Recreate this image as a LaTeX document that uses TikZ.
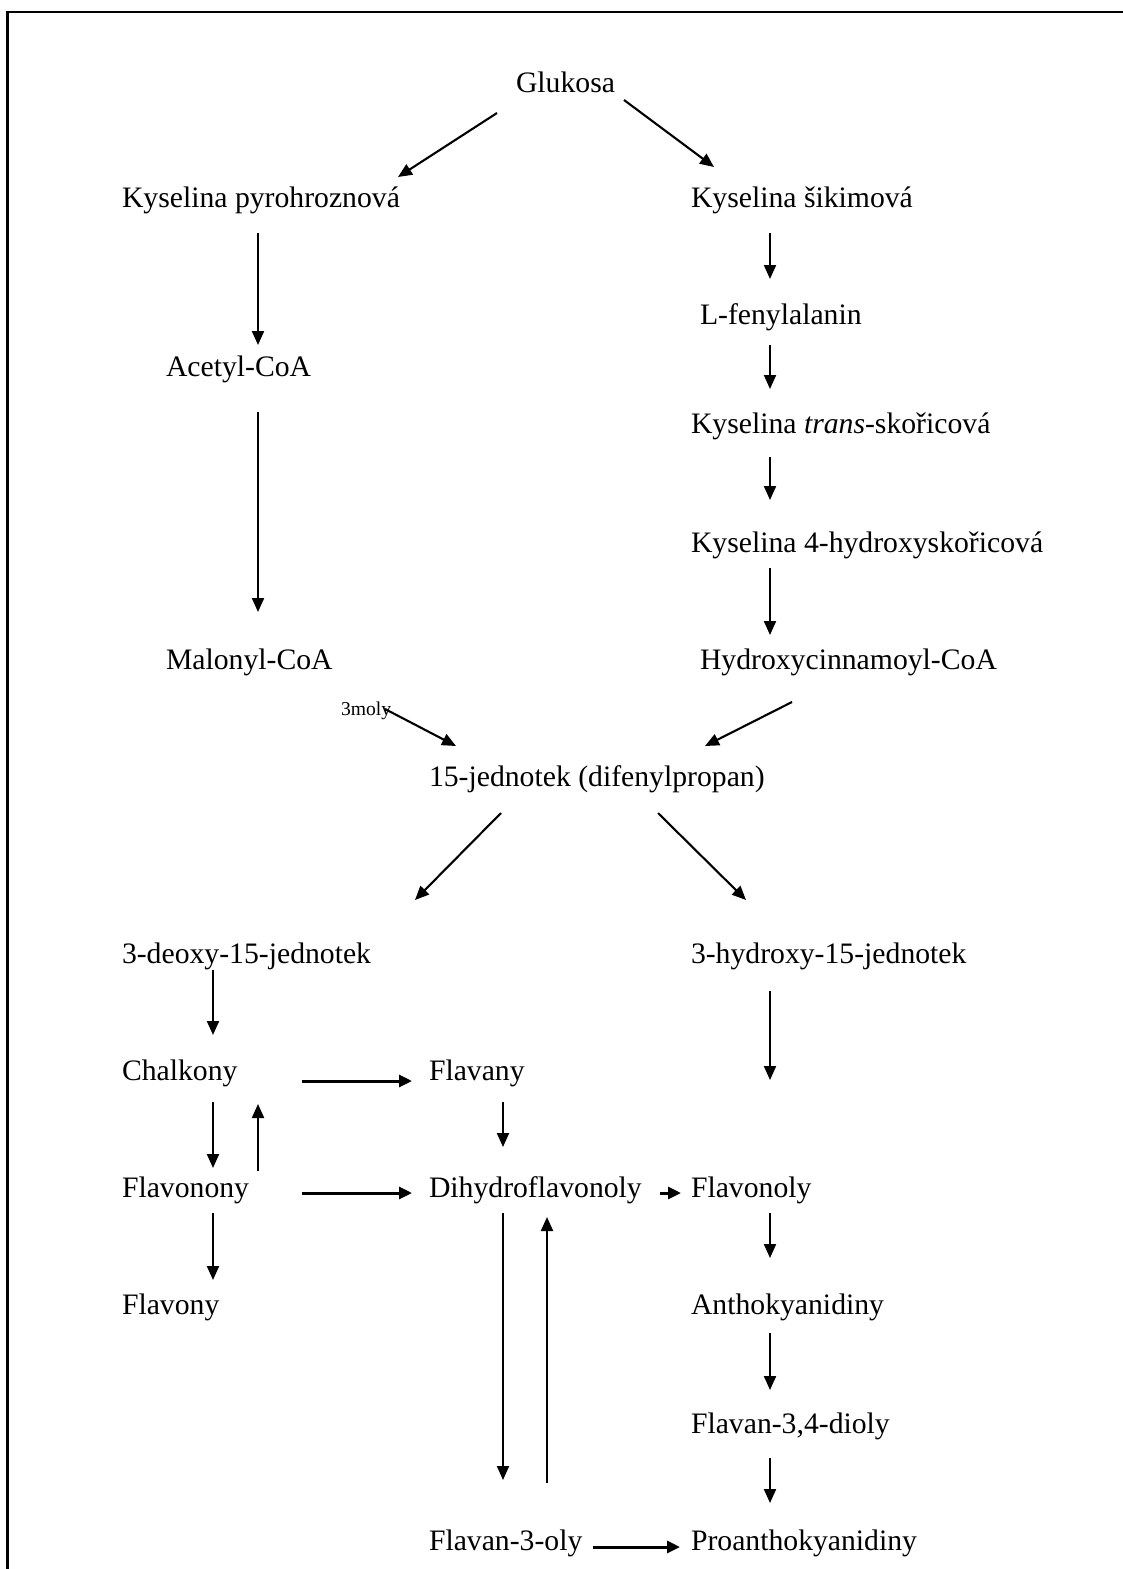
\documentclass[tikz,border=0pt]{standalone}
\usepackage{fontspec}
\setmainfont{Liberation Serif}
\usetikzlibrary{arrows.meta,calc}
\tikzset{
  txt/.style={anchor=base west, inner sep=0pt, outer sep=0pt, font=\fontsize{29.7}{34}\selectfont},
  small/.style={anchor=base west, inner sep=0pt, outer sep=0pt, font=\fontsize{19.6}{22}\selectfont},
  arr/.style={-{Triangle[length=14pt,width=12pt]}, line width=2.1pt},
  harr/.style={-{Triangle[length=13pt,width=12pt]}, line width=3pt},
  frame/.style={line width=2.6pt}
}
\begin{document}
\begin{tikzpicture}[x=1pt,y=-1pt]
\useasboundingbox (0,0) rectangle (1123,1569);
\draw[frame] (7.5,1575) -- (7.5,12) -- (1130,12);

\node[txt] (glu) at (516,92) {Glukosa};
\node[txt] (pyro) at (122,207) {Kyselina pyrohroznová};
\node[txt] (sik) at (691,207) {Kyselina šikimová};
\node[txt] (fen) at (700,324) {L-fenylalanin};
\node[txt] (ace) at (166,376) {Acetyl-CoA};
\node[txt] (trans) at (691,433) {Kyselina \textit{trans}-skořicová};
\node[txt] (hyd4) at (691,552) {Kyselina 4-hydroxyskořicová};
\node[txt] (mal) at (166,669) {Malonyl-CoA};
\node[txt] (hcin) at (700,669) {Hydroxycinnamoyl-CoA};
\node[small] (moly) at (341,715) {3moly};
\node[txt] (jed) at (429,786) {15-jednotek (difenylpropan)};
\node[txt] (deoxy) at (122,963) {3-deoxy-15-jednotek};
\node[txt] (hydroxy) at (691,963) {3-hydroxy-15-jednotek};
\node[txt] (chal) at (122,1080) {Chalkony};
\node[txt] (flavany) at (429,1080) {Flavany};
\node[txt] (flavonony) at (122,1197) {Flavonony};
\node[txt] (dihydro) at (429,1197) {Dihydroflavonoly};
\node[txt] (flavonoly) at (691,1197) {Flavonoly};
\node[txt] (flavony) at (122,1314) {Flavony};
\node[txt] (antho) at (691,1314) {Anthokyanidiny};
\node[txt] (diol) at (691,1433) {Flavan-3,4-dioly};
\node[txt] (f3ol) at (429,1550) {Flavan-3-oly};
\node[txt] (proantho) at (691,1550) {Proanthokyanidiny};
\coordinate (hxend) at (770,1080);

% top split
\draw[arr] ($(glu.base west)+(-19,21)$) -- ($(pyro.base west)+(276,-30)$);
\draw[arr] ($(glu.base west)+(108,8)$) -- ($(sik.base west)+(23,-40)$);
% left column
\draw[arr] ($(pyro.base west)+(136,26)$) -- ($(ace.base west)+(92,-31)$);
\draw[arr] ($(ace.base west)+(92,36)$) -- ($(mal.base west)+(92,-57)$);
% right column
\draw[arr] ($(sik.base west)+(79,26)$) -- ($(fen.base west)+(70,-45)$);
\draw[arr] ($(fen.base west)+(70,21)$) -- ($(trans.base west)+(79,-44)$);
\draw[arr] ($(trans.base west)+(79,24)$) -- ($(hyd4.base west)+(79,-52)$);
\draw[arr] ($(hyd4.base west)+(79,16)$) -- ($(hcin.base west)+(70,-34)$);
% merge
\draw[arr] ($(mal.base west)+(219,40)$) -- ($(jed.base west)+(27,-40)$);
\draw[arr] ($(hcin.base west)+(92,33)$) -- ($(jed.base west)+(276,-40)$);
% second split
\draw[arr] ($(jed.base west)+(72,27)$) -- ($(deoxy.base west)+(293,-63)$);
\draw[arr] ($(jed.base west)+(229,27)$) -- ($(hydroxy.base west)+(55,-63)$);
% lower part
\draw[arr] ($(deoxy.base west)+(91,7)$) -- ($(chal.base west)+(91,-45)$);
\draw[arr] ($(hydroxy.base west)+(79,28)$) -- (hxend);
\draw[harr] ($(chal.base west)+(180,1)$) -- ($(flavany.base west)+(-17,1)$);
\draw[arr] ($(chal.base west)+(91,22)$) -- ($(flavonony.base west)+(91,-29)$);
\draw[arr] ($(flavonony.base west)+(136,-26)$) -- ($(chal.base west)+(136,24)$);
\draw[arr] ($(flavany.base west)+(74,22)$) -- ($(dihydro.base west)+(74,-50)$);
\draw[harr] ($(flavonony.base west)+(180,-4)$) -- ($(dihydro.base west)+(-17,-4)$);
\draw[harr] ($(dihydro.base west)+(231,-4)$) -- ($(flavonoly.base west)+(-10,-4)$);
\draw[arr] ($(flavonony.base west)+(91,16)$) -- ($(flavony.base west)+(91,-34)$);
\draw[arr] ($(flavonoly.base west)+(79,16)$) -- ($(antho.base west)+(79,-56)$);
\draw[arr] ($(dihydro.base west)+(74,16)$) -- ($(f3ol.base west)+(74,-70)$);
\draw[arr] ($(f3ol.base west)+(118,-67)$) -- ($(dihydro.base west)+(118,20)$);
\draw[arr] ($(antho.base west)+(79,19)$) -- ($(diol.base west)+(79,-43)$);
\draw[arr] ($(diol.base west)+(79,25)$) -- ($(proantho.base west)+(79,-47)$);
\draw[harr] ($(f3ol.base west)+(164,-3)$) -- ($(proantho.base west)+(-11,-3)$);
\end{tikzpicture}
\end{document}
